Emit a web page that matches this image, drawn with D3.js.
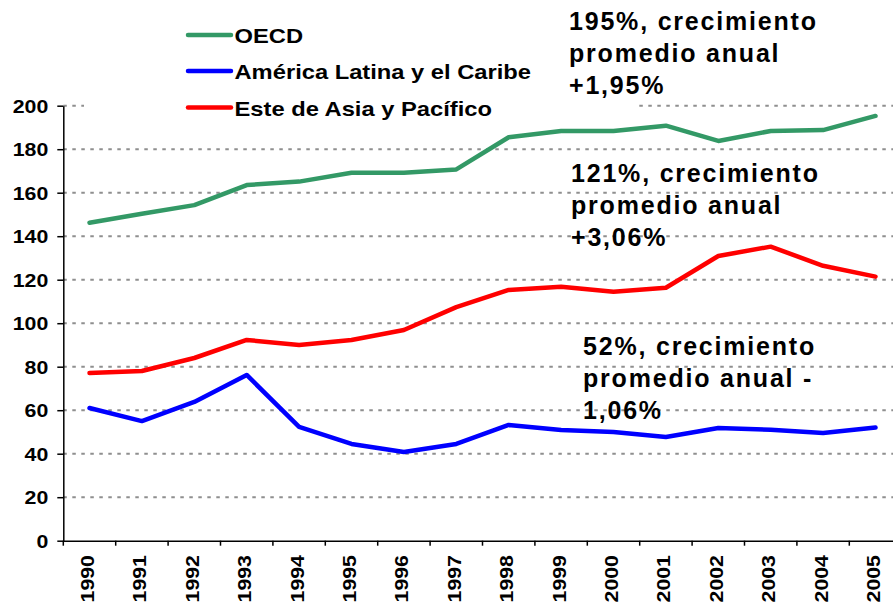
<!DOCTYPE html>
<html>
<head>
<meta charset="utf-8">
<script src="https://cdn.jsdelivr.net/npm/d3@7"></script>
<style>
  html, body { margin: 0; padding: 0; background: #fff; }
  svg { display: block; }
  text { font-family: "Liberation Sans", Arial, sans-serif; font-weight: bold; fill: #000; }
</style>
</head>
<body>
<svg id="chart" width="893" height="605"></svg>
<script>
const years = ["1990","1991","1992","1993","1994","1995","1996","1997","1998","1999","2000","2001","2002","2003","2004","2005"];
const oecd  = [146.2,150.3,154.3,163.5,165.1,169.2,169.2,170.7,185.5,188.4,188.4,190.8,183.8,188.4,188.8,195.3];
const latam = [61,55,63.8,76.2,52.3,44.5,40.8,44.5,53.2,50.9,50,47.7,51.8,51,49.5,52];
const asia  = [77.1,78,84,92.3,90,92.3,96.9,107.4,115.3,116.8,114.5,116.3,130.9,135.2,126.4,121.4];
const yTicks = [0,20,40,60,80,100,120,140,160,180,200];
const seriesNames = ["OECD","América Latina y el Caribe","Este de Asia y Pacífico"];
const seriesColors = ["#339966","#0000ff","#ff0000"];
const annotations = [
  ["195%, crecimiento","promedio anual","+1,95%"],
  ["121%, crecimiento","promedio anual","+3,06%"],
  ["52%, crecimiento","promedio anual -","1,06%"]
];

const svg = d3.select("#chart");
const x = d3.scaleBand().domain(years).range([63.3, 901.7]).padding(0);
const y = d3.scaleLinear().domain([0, 200]).range([540.7, 105.7]);
const cx = d => x(d) + x.bandwidth() / 2;

// gridlines
svg.append("g").selectAll("line").data(yTicks.filter(v => v > 0)).join("line")
  .attr("x1", 63.3).attr("x2", 893)
  .attr("y1", d => y(d)).attr("y2", d => y(d))
  .attr("stroke", "#8f8f8f").attr("stroke-width", 2).attr("stroke-dasharray", "3.5,5.5");

// legend background (hides part of top gridline)
svg.append("rect").attr("x", 84).attr("y", 0).attr("width", 554).attr("height", 124).attr("fill", "#fff");

// y axis
const yAxis = svg.append("g").attr("transform", "translate(63.3,0)")
  .call(d3.axisLeft(y).tickValues(yTicks).tickSize(6).tickSizeOuter(0));
yAxis.select(".domain").attr("stroke", "#000").attr("stroke-width", 1.5);
yAxis.selectAll(".tick line").attr("stroke", "#000").attr("stroke-width", 1.5);
yAxis.selectAll(".tick text")
  .attr("x", 0).attr("y", 0).attr("dy", null)
  .attr("text-anchor", "end")
  .attr("transform", "translate(-15,6.3) scale(1.22,1)")
  .style("font-size", "17.5px").style("font-family", "'Liberation Sans', Arial, sans-serif").style("font-weight", "bold");

// x axis
const xAxis = svg.append("g").attr("transform", "translate(0,540.7)")
  .call(d3.axisBottom(x).tickSize(5).tickSizeOuter(0));
xAxis.select(".domain").attr("stroke", "#000").attr("stroke-width", 1.5);
xAxis.selectAll(".tick line").attr("x1", -x.bandwidth() / 2).attr("x2", -x.bandwidth() / 2)
  .attr("stroke", "#000").attr("stroke-width", 1.5);
xAxis.selectAll(".tick text")
  .attr("x", 0).attr("y", 0).attr("dy", null)
  .attr("text-anchor", "end")
  .attr("transform", "translate(4.5,14.3) rotate(-90) scale(1.22,1)")
  .style("font-size", "17.5px").style("font-family", "'Liberation Sans', Arial, sans-serif").style("font-weight", "bold");

// lines
const line = d3.line().x((d, i) => cx(years[i])).y(d => y(d));
[oecd, latam, asia].forEach((s, k) => {
  svg.append("path").datum(s).attr("d", line)
    .attr("fill", "none").attr("stroke", seriesColors[k])
    .attr("stroke-width", 4.5).attr("stroke-linejoin", "round").attr("stroke-linecap", "round");
});

// legend
const legY = [35, 71, 107.5];
const leg = svg.append("g");
seriesNames.forEach((n, i) => {
  leg.append("line").attr("x1", 188).attr("x2", 231).attr("y1", legY[i]).attr("y2", legY[i])
    .attr("stroke", seriesColors[i]).attr("stroke-width", 4.5).attr("stroke-linecap", "round");
  leg.append("text").attr("transform", `translate(234.5,${legY[i] + 8}) scale(1.13,1)`)
    .style("font-size", "21px").text(n);
});

// annotations
const annPos = [[569, 29.5], [571, 181.7], [583, 354.5]];
annotations.forEach((lines, i) => {
  lines.forEach((t, j) => {
    svg.append("text").attr("x", annPos[i][0]).attr("y", annPos[i][1] + j * 32)
      .style("font-size", "25px").style("letter-spacing", "1.8px").text(t);
  });
});
</script>
</body>
</html>
